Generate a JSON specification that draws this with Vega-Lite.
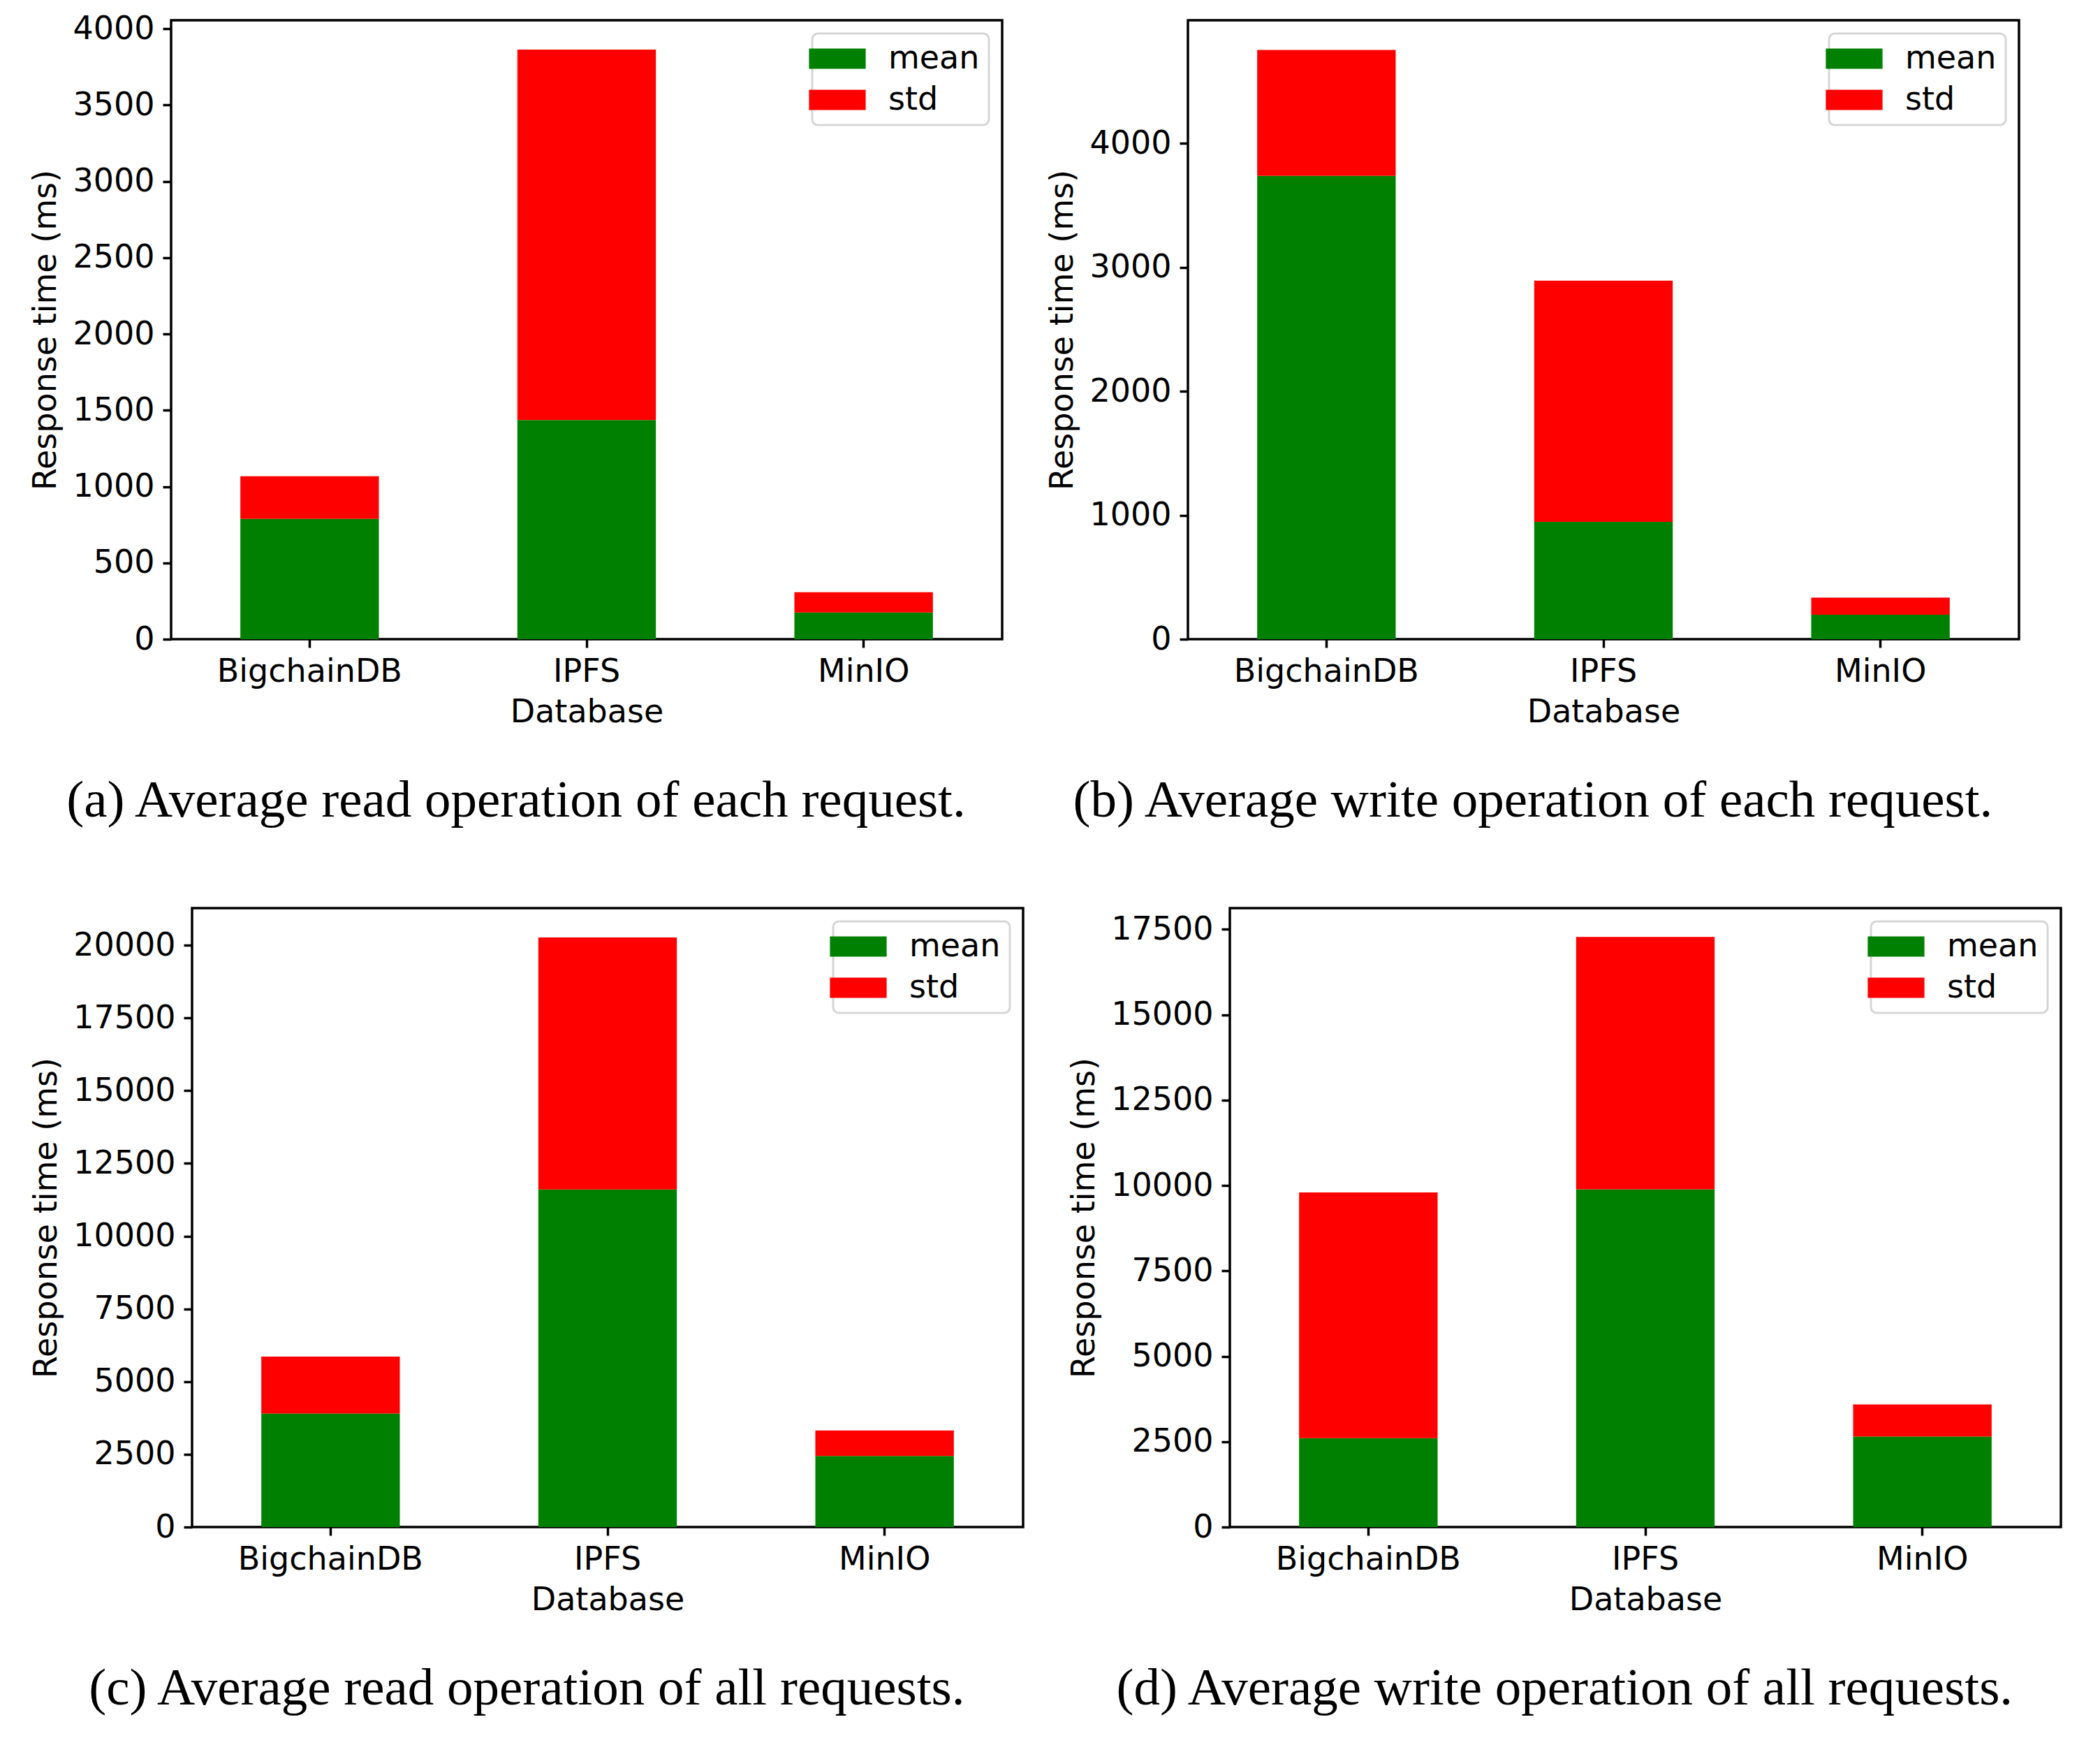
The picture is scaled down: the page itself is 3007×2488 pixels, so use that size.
{
  "$schema": "https://vega.github.io/schema/vega-lite/v6.json",
  "background": "white",
  "padding": {"left": 40, "top": 16, "right": 5, "bottom": 5},
  "data": {
    "values": [
      {"panel": "a", "db": "BigchainDB", "stat": "mean", "value": 788},
      {"panel": "a", "db": "BigchainDB", "stat": "std", "value": 280},
      {"panel": "a", "db": "IPFS", "stat": "mean", "value": 1436},
      {"panel": "a", "db": "IPFS", "stat": "std", "value": 2427},
      {"panel": "a", "db": "MinIO", "stat": "mean", "value": 175},
      {"panel": "a", "db": "MinIO", "stat": "std", "value": 133},
      {"panel": "b", "db": "BigchainDB", "stat": "mean", "value": 3739},
      {"panel": "b", "db": "BigchainDB", "stat": "std", "value": 1016},
      {"panel": "b", "db": "IPFS", "stat": "mean", "value": 947},
      {"panel": "b", "db": "IPFS", "stat": "std", "value": 1946},
      {"panel": "b", "db": "MinIO", "stat": "mean", "value": 198},
      {"panel": "b", "db": "MinIO", "stat": "std", "value": 138},
      {"panel": "c", "db": "BigchainDB", "stat": "mean", "value": 3905},
      {"panel": "c", "db": "BigchainDB", "stat": "std", "value": 1953},
      {"panel": "c", "db": "IPFS", "stat": "mean", "value": 11602},
      {"panel": "c", "db": "IPFS", "stat": "std", "value": 8663},
      {"panel": "c", "db": "MinIO", "stat": "mean", "value": 2445},
      {"panel": "c", "db": "MinIO", "stat": "std", "value": 873},
      {"panel": "d", "db": "BigchainDB", "stat": "mean", "value": 2602},
      {"panel": "d", "db": "BigchainDB", "stat": "std", "value": 7193},
      {"panel": "d", "db": "IPFS", "stat": "mean", "value": 9889},
      {"panel": "d", "db": "IPFS", "stat": "std", "value": 7385},
      {"panel": "d", "db": "MinIO", "stat": "mean", "value": 2650},
      {"panel": "d", "db": "MinIO", "stat": "std", "value": 937}
    ]
  },
  "spacing": 112,
  "vconcat": [
    {
      "spacing": 0,
      "resolve": {"scale": {"color": "independent"}, "legend": {"color": "independent"}},
      "hconcat": [
        {"width": 1, "height": 1, "data": {"values": []}, "mark": "point", "encoding": {}, "view": {"stroke": null}},
        {
          "spacing": 60,
          "resolve": {"scale": {"color": "independent"}, "legend": {"color": "independent"}},
          "hconcat": [
            {
              "width": 1190, "height": 886,
              "title": {"text": "(a) Average read operation of each request."},
              "transform": [{"filter": "datum.panel == 'a'"}],
              "mark": "bar",
              "encoding": {
                "x": {"field": "db", "type": "nominal", "title": "Database"},
                "y": {"field": "value", "type": "quantitative", "stack": "zero", "title": "Response time (ms)",
                      "scale": {"domain": [0, 4055], "nice": false},
                      "axis": {"values": [0, 500, 1000, 1500, 2000, 2500, 3000, 3500, 4000]}},
                "color": {"field": "stat", "type": "nominal", "scale": {"domain": ["mean", "std"], "range": ["#008000", "#ff0000"]},
                          "legend": {"orient": "top-right", "offset": 19}},
                "order": {"field": "stat", "sort": "ascending"}
              }
            },
            {
              "width": 1190, "height": 886,
              "title": {"text": "(b) Average write operation of each request."},
              "transform": [{"filter": "datum.panel == 'b'"}],
              "mark": "bar",
              "encoding": {
                "x": {"field": "db", "type": "nominal", "title": "Database"},
                "y": {"field": "value", "type": "quantitative", "stack": "zero", "title": "Response time (ms)",
                      "scale": {"domain": [0, 4995], "nice": false},
                      "axis": {"values": [0, 1000, 2000, 3000, 4000]}},
                "color": {"field": "stat", "type": "nominal", "scale": {"domain": ["mean", "std"], "range": ["#008000", "#ff0000"]},
                          "legend": {"orient": "top-right", "offset": 19}},
                "order": {"field": "stat", "sort": "ascending"}
              }
            }
          ]
        }
      ]
    },
    {
      "spacing": 0,
      "resolve": {"scale": {"color": "independent"}, "legend": {"color": "independent"}},
      "hconcat": [
        {"width": 1, "height": 1, "data": {"values": []}, "mark": "point", "encoding": {}, "view": {"stroke": null}},
        {
          "spacing": 60,
          "resolve": {"scale": {"color": "independent"}, "legend": {"color": "independent"}},
          "hconcat": [
            {
              "width": 1190, "height": 886,
              "title": {"text": "(c) Average read operation of all requests."},
              "transform": [{"filter": "datum.panel == 'c'"}],
              "mark": "bar",
              "encoding": {
                "x": {"field": "db", "type": "nominal", "title": "Database"},
                "y": {"field": "value", "type": "quantitative", "stack": "zero", "title": "Response time (ms)",
                      "scale": {"domain": [0, 21275], "nice": false},
                      "axis": {"values": [0, 2500, 5000, 7500, 10000, 12500, 15000, 17500, 20000]}},
                "color": {"field": "stat", "type": "nominal", "scale": {"domain": ["mean", "std"], "range": ["#008000", "#ff0000"]},
                          "legend": {"orient": "top-right", "offset": 19}},
                "order": {"field": "stat", "sort": "ascending"}
              }
            },
            {
              "width": 1190, "height": 886,
              "title": {"text": "(d) Average write operation of all requests."},
              "transform": [{"filter": "datum.panel == 'd'"}],
              "mark": "bar",
              "encoding": {
                "x": {"field": "db", "type": "nominal", "title": "Database"},
                "y": {"field": "value", "type": "quantitative", "stack": "zero", "title": "Response time (ms)",
                      "scale": {"domain": [0, 18120], "nice": false},
                      "axis": {"values": [0, 2500, 5000, 7500, 10000, 12500, 15000, 17500]}},
                "color": {"field": "stat", "type": "nominal", "scale": {"domain": ["mean", "std"], "range": ["#008000", "#ff0000"]},
                          "legend": {"orient": "top-right", "offset": 19}},
                "order": {"field": "stat", "sort": "ascending"}
              }
            }
          ]
        }
      ]
    }
  ],
  "resolve": {"scale": {"color": "independent"}, "legend": {"color": "independent"}},
  "config": {
    "font": "DejaVu Sans",
    "view": {"stroke": "black", "strokeWidth": 3.5},
    "scale": {"bandPaddingInner": 0.5, "bandPaddingOuter": 0.25},
    "axis": {
      "domain": false,
      "grid": false,
      "labelFont": "DejaVu Sans",
      "labelFontSize": 46,
      "labelColor": "black",
      "labelLimit": 0,
      "titleFont": "DejaVu Sans",
      "titleFontSize": 46,
      "titleFontWeight": "normal",
      "titleColor": "black",
      "tickColor": "black",
      "tickSize": 12,
      "tickWidth": 3.5,
      "labelPadding": 10
    },
    "axisX": {"labelAngle": 0, "titlePadding": 13, "labelPadding": 12},
    "axisY": {"format": "d", "titlePadding": 14, "labelPadding": 12},
    "legend": {
      "title": null,
      "symbolType": "M-2.8,-1H2.8V1H-2.8Z",
      "symbolSize": 841,
      "symbolStrokeWidth": 0,
      "symbolOpacity": 1,
      "labelFont": "DejaVu Sans",
      "labelFontSize": 46,
      "labelColor": "black",
      "labelOffset": 50,
      "rowPadding": 13,
      "padding": 13,
      "strokeColor": "#d6d6d6",
      "strokeWidth": 3,
      "fillColor": "white",
      "cornerRadius": 8
    },
    "title": {
      "orient": "bottom",
      "anchor": "middle",
      "frame": "bounds",
      "font": "Liberation Serif",
      "fontSize": 75,
      "fontWeight": "normal",
      "color": "black",
      "offset": 68
    }
  }
}
